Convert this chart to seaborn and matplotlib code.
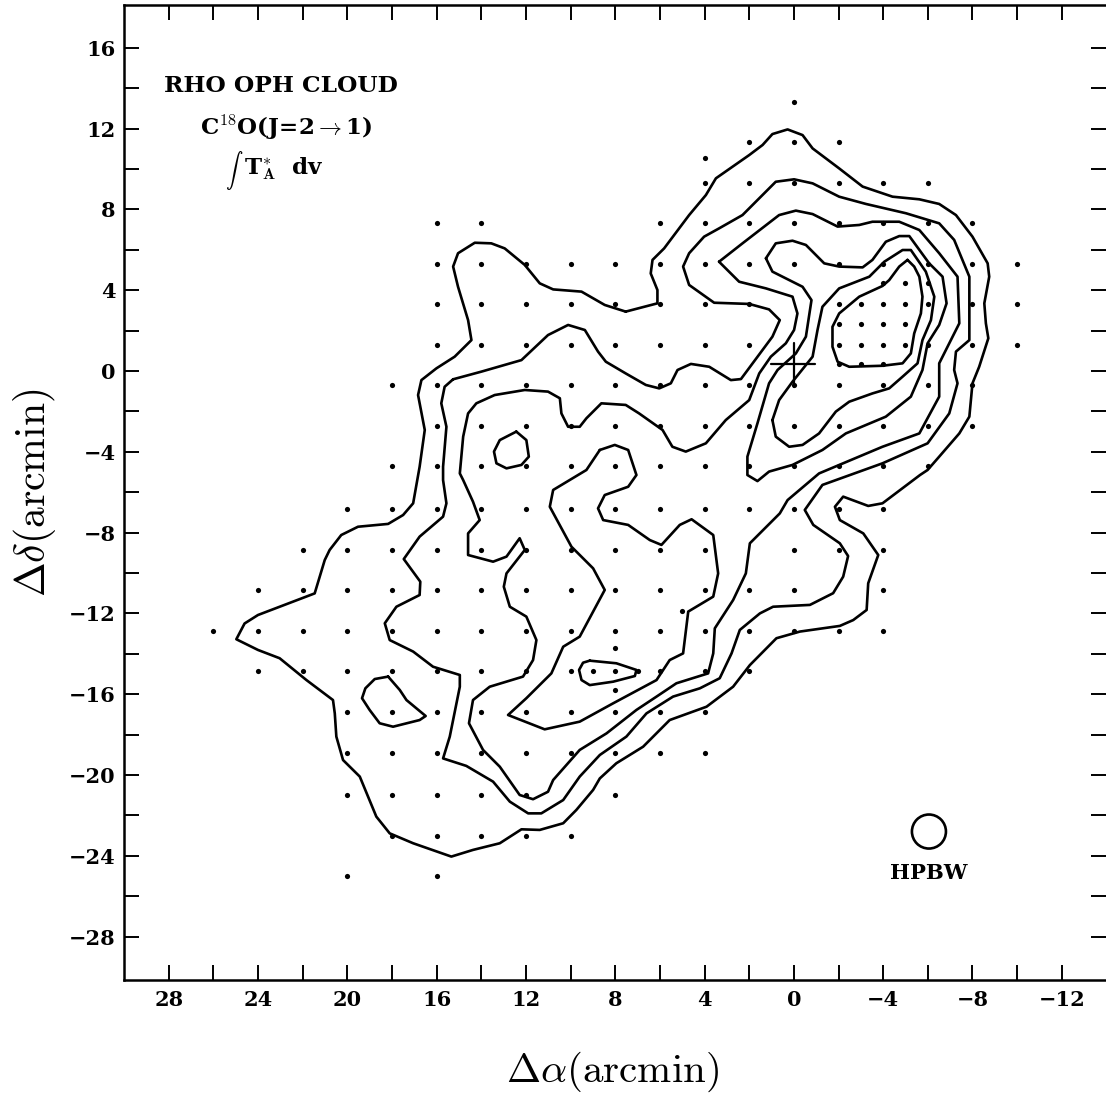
import pandas as pd
import matplotlib
matplotlib.use('Agg')
import matplotlib.pyplot as plt
import seaborn as sns

# Observed grid positions (arcmin): one row of offsets per declination
dot_rows = [13.33, 11.33, 10.55, 9.33, 7.33, 5.3, 4.35, 3.3, 2.33, 1.3, 0.35, -0.7, -2.7, -4.7,
            -6.85, -8.85, -10.85, -11.9, -12.85, -13.7, -14.85, -15.8, -16.9, -18.9, -21, -23, -25]
dot_columns = [
    [0],
    [2, 0, -2],
    [4],
    [4, 2, 0, -2, -4, -6],
    [16, 14, 6, 4, 2, 0, -2, -4, -6, -8],
    [16, 14, 12, 10, 8, 6, 4, 2, 0, -2, -4, -6, -8, -10],
    [-4, -5, -6],
    [16, 14, 12, 10, 8, 6, 4, 2, -2, -3, -4, -5, -6, -8, -10],
    [-2, -3, -4, -5],
    [16, 14, 12, 10, 8, 6, 4, 2, -2, -3, -4, -5, -6, -8, -10],
    [-2, -3, -4],
    [18, 16, 14, 12, 10, 8, 6, 4, 2, 0, -2, -4, -6, -8],
    [16, 14, 12, 10, 8, 6, 4, 2, 0, -2, -4, -6, -8],
    [18, 16, 14, 12, 10, 8, 6, 4, 2, 0, -2, -4, -6],
    [20, 18, 16, 14, 12, 10, 8, 6, 4, 2, 0, -2, -4],
    [22, 20, 18, 16, 14, 12, 10, 8, 6, 4, 0, -2, -4],
    [24, 22, 20, 18, 16, 14, 12, 10, 8, 6, 4, 2, 0, -4],
    [5],
    [26, 24, 22, 20, 18, 16, 14, 12, 10, 8, 6, 4, 2, 0, -2, -4],
    [8],
    [24, 22, 20, 18, 16, 14, 12, 10, 9, 8, 7, 6, 4, 2],
    [8],
    [20, 18, 16, 14, 12, 10, 8, 6, 4],
    [20, 18, 16, 14, 12, 10, 8, 6, 4],
    [20, 18, 16, 14, 12, 8],
    [18, 16, 14, 12, 10],
    [20, 16],
]

# Contours, outermost first
outer_x = [7.53, 6.11, 6.11, 6.41, 6.33, 5.81, 4.69, 3.94, 3.49, 2.0, 1.4, 0.96, 0.28, -0.39, -0.84, -2.03,
           -3.08, -4.42, -5.62, -6.51, -7.26, -8.0, -8.68, -8.75, -8.53, -8.6, -8.71, -8.3, -8.0, -7.86, -7.41,
           -6.51, -5.99, -5.65, -3.97, -3.33, -2.21, -1.84, -2.06, -3.11, -3.78, -3.33, -3.26, -2.66, -2.06,
           -0.27, 0.78, 1.97, 2.72, 3.91, 5.56, 6.75, 7.95, 8.69, 8.99, 9.74, 10.33, 11.38, 12.2, 13.17, 14.37,
           15.34, 17.05, 18.1, 18.7, 19.44, 20.19, 20.49, 20.56, 20.64, 21.83, 23.03, 24.0, 24.97, 24.6, 24.0,
           21.46, 21.01, 20.79, 20.27, 19.52, 18.17, 17.5, 17.05, 16.76, 16.53, 16.83, 16.68, 16.01, 15.19,
           14.44, 14.59, 15.04, 15.26, 15.04, 14.29, 13.55, 12.95, 12.05, 11.38, 10.78, 9.51, 8.47]
outer_y = [2.94, 3.35, 4.01, 4.83, 5.5, 6.07, 7.72, 8.71, 9.54, 10.69, 11.19, 11.73, 11.96, 11.68, 11.02, 10.03,
           9.13, 8.63, 8.5, 8.27, 7.72, 6.65, 5.33, 4.67, 3.35, 2.36, 1.62, 0.21, -0.61, -2.26, -3.09,
           -4.24, -4.9, -5.15, -6.55, -6.68, -6.22, -6.72, -7.38, -8.04, -9.11, -10.51, -11.83, -12.33, -12.62,
           -12.9, -13.23, -14.56, -15.63, -16.62, -17.28, -18.6, -19.42, -20.17, -20.74, -21.73, -22.39, -22.72,
           -22.69, -23.38, -23.71, -24.04, -23.38, -22.89, -22.06, -20.08, -19.26, -18.1, -16.95, -16.29, -15.3,
           -14.22, -13.81, -13.28, -12.5, -12.08, -11.01, -9.36, -8.86, -8.12, -7.71, -7.57, -7.13, -6.55, -4.74,
           -2.92, -1.19, -0.45, 0.13, 0.71, 1.53, 2.52, 4.17, 5.17, 5.83, 6.35, 6.32, 6.07, 5.25, 4.34, 4.04, 3.93,
           3.27]

second_x = [15.26, 13.99, 12.2, 11.01, 10.11, 9.36, 8.77, 8.42, 7.53, 6.63, 6.03, 5.51, 5.21, 4.61, 3.79, 2.82,
            2.37, 0.96, 0.63, 1.11, 2.0, 3.57, 4.69, 4.96, 4.69, 4.02, 3.35, 2.3, 0.81, -0.01, -0.84, -2.03, -3.23,
            -5.02, -6.51, -7.18, -7.86, -7.86, -7.86, -7.26, -7.18, -7.33, -6.96, -5.99, -3.97, -1.28, -0.49, -0.87,
            -2.06, -2.43, -2.21, -1.76, -0.72, 0.93, 1.52, 2.42, 2.79, 3.32, 4.21, 5.41, 6.6, 7.5, 8.69, 9.59,
            10.33, 11.31, 11.9, 12.72, 13.47, 14.67, 15.71, 15.41, 14.96, 14.96, 16.16, 17.05, 18.1, 18.32, 17.8,
            16.76, 16.73, 17.47, 16.76, 15.71, 15.56, 15.71, 15.71, 15.56, 15.79, 15.64]
second_y = [-0.41, -0.03, 0.54, 1.78, 2.28, 2.03, 0.96, 0.46, -0.12, -0.69, -0.86, -0.61, 0.05, 0.35, 0.21, -0.45,
            -0.4, 1.7, 2.52, 3.05, 3.32, 3.38, 4.26, 5.17, 5.83, 6.65, 7.06, 7.72, 9.37, 9.49, 9.29, 8.63, 8.27,
            7.81, 7.31, 6.49, 4.67, 2.85, 1.53, 0.96, 0.05, -0.61, -2.1, -3.58, -4.57, -5.64, -6.88, -7.62,
            -8.53, -9.16, -10.18, -11.0, -11.58, -11.67, -12.0, -12.82, -13.98, -15.21, -15.71, -16.12, -16.95,
            -18.1, -19.01, -20.08, -21.24, -21.9, -21.9, -21.32, -20.33, -19.55, -19.18, -18.1, -15.63, -15.05,
            -14.64, -13.89, -13.32, -12.49, -11.67, -11.09, -10.43, -9.31, -8.2, -7.21, -6.55, -5.4, -4.74, -2.76,
            -1.6, -0.78]

third_x = [3.35, 2.3, 0.66, -0.09, -0.84, -1.96, -2.93, -3.52, -4.72, -5.62, -6.51, -7.33, -7.41, -6.51, -6.51,
           -5.62, -3.97, -1.13, 0.28, 0.63, 1.97, 2.15, 2.72, 3.54, 3.61, 3.84, 5.26, 6.15, 7.05, 8.39, 9.59, 10.78,
           11.01, 11.68, 12.28, 13.17, 13.92, 14.55, 14.37, 13.62, 12.13, 11.68, 11.53, 11.98, 12.72, 12.99, 12.87,
           12.05, 12.28, 12.87, 13.47, 14.59, 14.59, 14.07, 14.37, 14.81, 14.96, 14.81, 14.59, 14.22, 13.4, 12.05,
           11.01, 10.48, 10.41, 10.11, 9.59, 9.29, 8.62, 7.53, 6.93, 5.88, 5.44, 4.84, 3.94, 3.05, 2.0, 1.55, 1.03,
           0.36, -0.01, -0.16, 0.06, 1.25, 2.45]
third_y = [5.41, 6.32, 7.72, 7.94, 7.77, 7.15, 7.23, 7.39, 7.39, 6.98, 5.83, 4.67, 2.36, 0.38, -1.27,
           -3.09, -3.75, -5.07, -6.39, -7.05, -8.53, -10.02, -11.34, -12.74, -13.98, -14.97, -15.46, -16.12, -16.78,
           -17.94, -18.76, -20.25, -20.83, -21.2, -20.99, -19.59, -18.76, -17.44, -16.29, -15.63, -15.13, -14.31,
           -13.32, -12.16, -11.67, -10.68, -10.02, -8.86, -8.28, -9.19, -9.44, -9.11, -8.04, -7.38, -6.47, -5.4,
           -5.07, -3.25, -2.1, -1.6, -1.19, -0.94, -1.02, -1.35, -2.1, -2.76, -2.76, -2.34, -1.6, -1.68, -2.1, -2.92,
           -3.75, -3.99, -3.58, -2.43, -1.44, -0.12, 0.71, 1.37, 2.03, 2.85, 3.68, 4.09, 4.42]

fourth_x = [1.25, 0.81, 0.06, -0.54, -1.36, -2.03, -3.08, -3.52, -4.12, -4.72, -5.17, -6.06, -6.66, -6.84, -6.51,
            -5.99, -5.76, -5.24, -4.12, -2.33, -1.28, 0.06, 1.11, 1.63, 2.08, 2.08, 1.63, 1.11, 0.73, -0.09, -0.54,
            -0.79, -0.39, 0.96]
fourth_y = [5.58, 6.32, 6.45, 6.24, 5.33, 5.17, 5.13, 5.5, 6.4, 6.68, 6.68, 5.33, 4.67, 3.35, 2.28,
            1.37, 0.05, -1.27, -2.26, -3.09, -3.91, -4.65, -4.98, -5.45, -5.15, -4.24, -2.59, -0.61, 0.05, 0.87, 1.7,
            3.51, 4.17, 4.92]

fifth_x = [0.96, 0.66, 0.06, -0.84, -1.06, -1.28, -2.03, -3.38, -4.05, -4.87, -5.24, -5.91, -6.29, -6.14, -5.76,
           -5.54, -4.87, -4.27, -3.52, -2.48, -1.88, -1.13, -0.39, 0.21, 0.81]
fifth_y = [-2.43, -1.44, -0.53, 0.71, 2.03, 3.18, 4.09, 4.67, 5.41, 5.99, 5.99, 4.92, 3.68, 2.52, 1.53,
           0.38, -0.28, -0.86, -1.11, -1.52, -2.01, -3.09, -3.66, -3.75, -3.25]

peak_x = [-5.09, -4.72, -4.27, -3.97, -2.93, -2.03, -1.73, -1.73, -1.96, -2.48, -3.97, -4.87, -5.24, -5.39, -5.69,
          -5.76, -5.62, -5.39]
peak_y = [5.5, 5.17, 4.5, 4.21, 3.68, 2.85, 2.19, 1.2, 0.46, 0.21, 0.26, 0.38, 0.87, 1.86, 2.85,
          3.68, 4.67, 5.17]

middle_x = [8.69, 8.02, 7.42, 7.05, 7.42, 8.47, 8.77, 8.54, 7.42, 6.45, 5.93, 5.11, 4.58, 3.61, 3.39, 3.61, 4.73,
            4.96, 5.56, 6.15, 8.09, 9.59, 11.16, 12.8, 11.98, 10.86, 10.33, 9.59, 8.47, 8.99, 9.96, 10.93, 10.78, 9.29]
middle_y = [-3.91, -3.66, -3.91, -5.15, -5.73, -6.14, -6.8, -7.38, -7.62, -8.37, -8.61, -7.62, -7.34, -8.12, -10.02,
            -11.17, -11.91, -13.98, -14.31, -15.3, -16.45, -17.36, -17.74, -17.03, -16.2, -14.97, -13.65, -13.15,
            -10.84, -9.77, -8.7, -6.72, -5.89, -4.9]

clump_a_x = [9.14, 7.95, 7.05, 7.12, 8.09, 9.14, 9.51, 9.62, 9.44]
clump_a_y = [-14.34, -14.47, -14.8, -15.1, -15.38, -15.55, -15.3, -14.8, -14.44]

clump_b_x = [12.43, 11.98, 11.87, 12.2, 12.87, 13.32, 13.43, 13.17]
clump_b_y = [-3.0, -3.42, -4.24, -4.65, -4.82, -4.57, -3.99, -3.42]

clump_c_x = [18.17, 17.65, 17.35, 16.49, 16.76, 17.95, 18.55, 19.0, 19.34, 19.19, 18.77]
clump_c_y = [-15.13, -15.79, -16.29, -17.08, -17.28, -17.61, -17.44, -16.78, -16.2, -15.71, -15.25]

# Central source cross and beam marker
cross_h_x = [1.03, -0.96]
cross_h_y = [0.35, 0.35]
cross_v_x = [0, 0]
cross_v_y = [1.37, -0.78]
beam_x = [-6.05]
beam_y = [-22.8]

x_ticks_labeled = [28, 24, 20, 16, 12, 8, 4, 0, -4, -8, -12]
y_ticks_labeled = [16, 12, 8, 4, 0, -4, -8, -12, -16, -20, -24, -28]
x_ticks_minor = [26, 22, 18, 14, 10, 6, 2, -2, -6, -10]
y_ticks_minor = [14, 10, 6, 2, -2, -6, -10, -14, -18, -22, -26]

contours = [(outer_x, outer_y), (second_x, second_y), (third_x, third_y), (fourth_x, fourth_y),
            (fifth_x, fifth_y), (peak_x, peak_y), (middle_x, middle_y), (clump_a_x, clump_a_y),
            (clump_b_x, clump_b_y), (clump_c_x, clump_c_y)]

sns.set_theme(style='white')
plt.rcParams['font.family'] = ['DejaVu Serif']
plt.rcParams['mathtext.fontset'] = 'cm'
plt.rcParams['text.color'] = 'black'
plt.rcParams['axes.labelcolor'] = 'black'
plt.rcParams['xtick.labelcolor'] = 'black'
plt.rcParams['ytick.labelcolor'] = 'black'

fig = plt.figure(figsize=(11.06, 10.96), dpi=100)
ax = fig.add_axes([124 / 1106, 1 - 980 / 1096, 982 / 1106, 975 / 1096])

# Dots of the observed grid
dots = pd.DataFrame([(x, row) for row, cols in zip(dot_rows, dot_columns) for x in cols], columns=['x', 'y'])
sns.scatterplot(data=dots, x='x', y='y', color='black', s=14, linewidth=0, ax=ax, zorder=2)

# Closed contour lines
for cx, cy in contours:
    df = pd.DataFrame({'x': cx + cx[:1], 'y': cy + cy[:1]})
    sns.lineplot(data=df, x='x', y='y', sort=False, estimator=None, color='black', linewidth=1.9,
                 solid_joinstyle='round', ax=ax, zorder=3)

sns.lineplot(x=cross_h_x, y=cross_h_y, sort=False, estimator=None, color='black', linewidth=1.6, ax=ax)
sns.lineplot(x=cross_v_x, y=cross_v_y, sort=False, estimator=None, color='black', linewidth=1.6, ax=ax)
sns.scatterplot(x=beam_x, y=beam_y, s=600, facecolor='none', edgecolor='black', linewidth=1.9, ax=ax)

ax.set_xlim(30.0, -13.98)
ax.set_ylim(-30.15, 18.12)
ax.set_xticks(x_ticks_labeled)
ax.set_yticks(y_ticks_labeled)
ax.set_xticks(x_ticks_minor, minor=True)
ax.set_yticks(y_ticks_minor, minor=True)
ax.tick_params(which='both', direction='in', length=10.5, width=1.4, color='black',
               top=True, right=True, bottom=True, left=True)
ax.set_xticklabels([str(v).replace('-', '\u2212') for v in x_ticks_labeled], fontsize=15, fontweight='bold')
ax.set_yticklabels([str(v).replace('-', '\u2212') for v in y_ticks_labeled], fontsize=15, fontweight='bold')
ax.tick_params(axis='x', which='major', pad=7)
ax.tick_params(axis='y', which='major', pad=6)
ax.set_xlabel(r'$\Delta\alpha\mathrm{(arcmin)}$', fontsize=29.5, va='center')
ax.xaxis.set_label_coords(0.4975, -92 / 975)
ax.set_ylabel(r'$\Delta\delta\mathrm{(arcmin)}$', fontsize=30, labelpad=8)

for side in ax.spines.values():
    side.set_linewidth(1.8)
    side.set_color('black')
ax.spines['right'].set_visible(False)

fig.text(281 / 1106, 1 - 86 / 1096, 'RHO OPH CLOUD', fontsize=16.8, fontweight='bold', ha='center', va='center')
fig.text(286 / 1106, 1 - 128 / 1096, r'C$^{\mathbf{18}}$O(J=2$\rightarrow$1)', fontsize=16.6, fontweight='bold',
         ha='center', va='center')
fig.text(234 / 1106, 1 - 170 / 1096, r'$\int$', fontsize=12.5, ha='center', va='center')
fig.text(244 / 1106, 1 - 169 / 1096, r'T$_{\mathbf{A}}^{\mathbf{*}}$  dv', fontsize=16.6, fontweight='bold',
         ha='left', va='center')
fig.text(929 / 1106, 1 - 873 / 1096, 'HPBW', fontsize=15.2, fontweight='bold', ha='center', va='center')

fig.savefig('out.png', dpi=100)
